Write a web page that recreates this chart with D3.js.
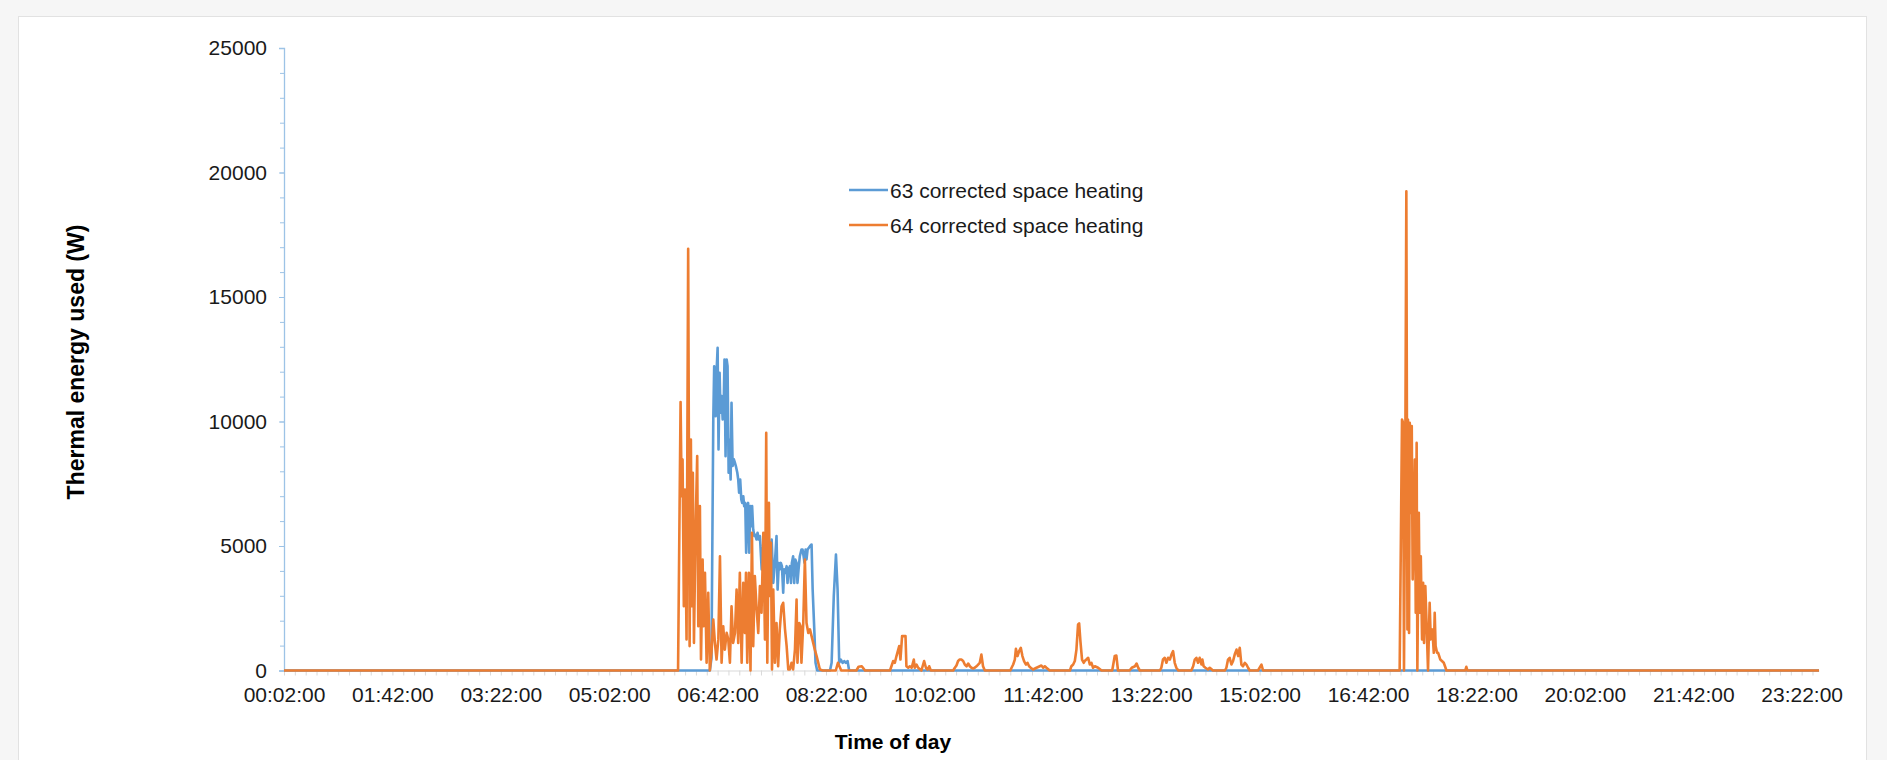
<!DOCTYPE html>
<html>
<head>
<meta charset="utf-8">
<script src="https://cdn.jsdelivr.net/npm/d3@7"></script>
<style>
  body { margin: 0; background: #f6f6f6; }
  svg { display: block; font-family: "Liberation Sans", Arial, sans-serif; }
  .axis text { fill: #1a1a1a; font-size: 21px; }
  .y-axis path, .y-axis line { stroke: #9dc3e6; }
  .x-axis path, .x-axis line { stroke: #d9d9d9; }
  .axis-title { font-weight: bold; font-size: 21px; fill: #000; }
  .legend text { font-size: 21px; fill: #1a1a1a; }
</style>
</head>
<body>
<div id="chart"></div>
<script>
// x axis labels (category axis, one label every 100 minutes)
var tickLabels = [
  "00:02:00", "01:42:00", "03:22:00", "05:02:00", "06:42:00",
  "08:22:00", "10:02:00", "11:42:00", "13:22:00", "15:02:00",
  "16:42:00", "18:22:00", "20:02:00", "21:42:00", "23:22:00"
];
var timeRange = ["00:02:00", "23:38:00"];
var yTicks = [0, 5000, 10000, 15000, 20000, 25000];

var seriesNames = ["63 corrected space heating", "64 corrected space heating"];

// [time, W] - zero stretches only keep their end points
var space63 = [
  ["00:02:00", 0], ["06:34:50", 0], ["06:36:20", 500], ["06:38:00", 10080],
  ["06:38:50", 12220], ["06:40:10", 10210], ["06:41:00", 11960], ["06:42:00", 12960],
  ["06:42:50", 8880], ["06:43:50", 11960], ["06:44:40", 10350], ["06:45:40", 11020],
  ["06:46:40", 10080], ["06:47:30", 10350], ["06:48:20", 12490], ["06:49:20", 8610],
  ["06:50:20", 12490], ["06:51:10", 12220], ["06:52:10", 7940], ["06:53:00", 9280],
  ["06:54:00", 7670], ["06:54:50", 10750], ["06:55:50", 8210], ["06:57:00", 8480],
  ["06:58:00", 8340], ["06:58:50", 8210], ["07:00:10", 7940], ["07:01:00", 7670],
  ["07:01:50", 7140], ["07:02:50", 7670], ["07:03:50", 6870], ["07:04:40", 6730],
  ["07:05:40", 7000], ["07:06:30", 6600], ["07:07:30", 6730], ["07:08:20", 4730],
  ["07:09:20", 6600], ["07:10:10", 6730], ["07:11:10", 4730], ["07:12:10", 6600],
  ["07:13:00", 5800], ["07:13:50", 6600], ["07:14:50", 5660], ["07:15:50", 5400],
  ["07:16:40", 5460], ["07:17:50", 5260], ["07:18:50", 5530], ["07:19:50", 5260],
  ["07:21:00", 5400], ["07:22:40", 4060], ["07:24:10", 5130], ["07:25:40", 4190],
  ["07:27:10", 3520], ["07:28:40", 4320], ["07:30:10", 3250], ["07:31:50", 5260],
  ["07:33:20", 3520], ["07:34:50", 4320], ["07:36:20", 5400], ["07:37:20", 3250],
  ["07:38:30", 4320], ["07:39:20", 4060], ["07:40:20", 4320], ["07:41:20", 4190],
  ["07:42:30", 3120], ["07:43:20", 4060], ["07:44:20", 3920], ["07:45:40", 4190],
  ["07:46:30", 3520], ["07:47:20", 4060], ["07:48:40", 4190], ["07:49:40", 3520],
  ["07:50:30", 4320], ["07:51:40", 4590], ["07:52:40", 3520], ["07:53:40", 4460],
  ["07:54:50", 4320], ["07:55:40", 3520], ["07:56:40", 4060], ["07:57:50", 4590],
  ["07:59:20", 4860], ["08:00:20", 4860], ["08:01:20", 4590], ["08:02:10", 4320],
  ["08:03:10", 4860], ["08:04:00", 4460], ["08:05:00", 4860], ["08:06:10", 4930],
  ["08:07:10", 4990], ["08:08:40", 5060], ["08:09:40", 3250], ["08:11:10", 1650],
  ["08:12:20", 310], ["08:13:50", 0], ["08:25:40", 0], ["08:27:10", 310],
  ["08:29:10", 2990], ["08:31:10", 4660], ["08:32:40", 3250], ["08:34:10", 310],
  ["08:35:40", 440], ["08:37:20", 310], ["08:38:50", 380], ["08:40:20", 310],
  ["08:41:50", 380], ["08:43:20", 0], ["23:38:00", 0]
];

var space64 = [
  ["00:02:00", 0], ["06:05:30", 0], ["06:07:50", 10780], ["06:08:50", 7000],
  ["06:09:40", 8470], ["06:10:50", 2580], ["06:11:50", 7270], ["06:13:20", 1250],
  ["06:14:50", 16940], ["06:16:10", 980], ["06:17:20", 9280], ["06:18:20", 2580],
  ["06:19:10", 7940], ["06:20:10", 1110], ["06:21:40", 5660], ["06:23:10", 8610],
  ["06:24:10", 1780], ["06:25:40", 6600], ["06:26:40", 440], ["06:28:10", 4460],
  ["06:29:00", 1780], ["06:30:20", 3920], ["06:31:50", 310], ["06:33:20", 3120],
  ["06:34:50", 0], ["06:36:20", 710], ["06:38:00", 2050], ["06:39:30", 1110],
  ["06:41:00", 440], ["06:42:40", 1250], ["06:44:10", 4590], ["06:45:40", 310],
  ["06:47:10", 1780], ["06:48:40", 840], ["06:50:20", 1510], ["06:51:50", 1250],
  ["06:53:20", 310], ["06:54:50", 2580], ["06:56:20", 1110], ["06:58:00", 1510],
  ["06:59:30", 3250], ["07:01:00", 1110], ["07:02:30", 3920], ["07:04:10", 310],
  ["07:05:40", 3520], ["07:07:10", 1510], ["07:08:10", 3920], ["07:09:20", 310],
  ["07:10:50", 3920], ["07:12:20", 0], ["07:13:40", 5530], ["07:14:50", 980],
  ["07:16:20", 3790], ["07:17:50", 2580], ["07:19:30", 1510], ["07:21:00", 3390],
  ["07:22:30", 2320], ["07:24:10", 5530], ["07:25:40", 1250], ["07:26:50", 9550],
  ["07:27:50", 310], ["07:29:20", 6730], ["07:30:10", 2990], ["07:31:10", 5130],
  ["07:32:10", 40], ["07:33:20", 3250], ["07:34:50", 310], ["07:36:20", 1910],
  ["07:37:50", 170], ["07:39:20", 1650], ["07:41:00", 2580], ["07:42:30", 2720],
  ["07:44:10", 1650], ["07:45:40", 980], ["07:47:10", 40], ["07:48:40", 40],
  ["07:50:10", 310], ["07:51:40", 40], ["07:53:20", 840], ["07:54:50", 2850],
  ["07:55:40", 310], ["07:57:20", 1910], ["07:58:30", 1780], ["07:59:20", 310],
  ["08:01:00", 1910], ["08:02:30", 4460], ["08:04:00", 1910], ["08:05:40", 1510],
  ["08:07:10", 1650], ["08:08:40", 1380], ["08:10:10", 1110], ["08:11:40", 840],
  ["08:13:20", 580], ["08:14:50", 310], ["08:16:20", 40], ["08:19:00", 0],
  ["08:31:00", 0], ["08:33:00", 310], ["08:36:00", 0], ["08:50:00", 0],
  ["08:52:00", 150], ["08:55:00", 170], ["08:58:00", 0], ["09:21:00", 0],
  ["09:24:00", 380], ["09:25:30", 310], ["09:27:00", 580], ["09:29:30", 980],
  ["09:30:40", 440], ["09:32:10", 1380], ["09:33:50", 1380], ["09:35:20", 1380],
  ["09:36:10", 170], ["09:37:50", 110], ["09:39:20", 170], ["09:41:00", 110],
  ["09:43:00", 440], ["09:43:50", 110], ["09:45:30", 240], ["09:47:00", 110],
  ["09:50:00", 0], ["09:52:30", 380], ["09:54:10", 110], ["09:55:40", 40],
  ["09:57:10", 170], ["09:58:40", 0], ["10:19:20", 0], ["10:20:50", 110],
  ["10:22:20", 200], ["10:23:50", 380], ["10:25:20", 440], ["10:26:50", 440],
  ["10:28:30", 380], ["10:30:00", 240], ["10:31:40", 170], ["10:33:10", 280],
  ["10:34:40", 170], ["10:36:10", 110], ["10:37:40", 80], ["10:39:10", 110],
  ["10:40:50", 170], ["10:42:20", 240], ["10:43:50", 310], ["10:45:20", 640],
  ["10:46:50", 170], ["10:48:30", 0], ["11:12:00", 0], ["11:13:10", 110],
  ["11:14:40", 240], ["11:16:10", 440], ["11:17:10", 870], ["11:18:40", 580],
  ["11:20:10", 780], ["11:21:40", 910], ["11:23:10", 580], ["11:24:40", 380],
  ["11:26:20", 240], ["11:27:50", 310], ["11:29:20", 170], ["11:30:50", 110],
  ["11:33:00", 40], ["11:36:10", 110], ["11:39:10", 170], ["11:40:40", 200],
  ["11:42:20", 110], ["11:43:50", 170], ["11:45:20", 110], ["11:48:20", 0],
  ["12:07:00", 0], ["12:08:20", 170], ["12:10:00", 240], ["12:11:30", 380],
  ["12:13:00", 840], ["12:14:30", 1850], ["12:15:30", 1890], ["12:16:40", 1180],
  ["12:18:10", 440], ["12:19:40", 310], ["12:20:40", 380], ["12:22:10", 440],
  ["12:23:50", 510], ["12:25:20", 240], ["12:26:50", 310], ["12:28:20", 110],
  ["12:30:00", 170], ["12:33:00", 110], ["12:36:10", 0], ["12:46:00", 0],
  ["12:48:20", 580], ["12:49:50", 600], ["12:51:20", 0], ["13:02:00", 0],
  ["13:04:00", 110], ["13:07:00", 170], ["13:08:30", 280], ["13:10:00", 110],
  ["13:11:30", 0], ["13:30:00", 0], ["13:31:20", 110], ["13:32:50", 440],
  ["13:34:30", 510], ["13:36:00", 310], ["13:37:30", 510], ["13:39:10", 440],
  ["13:40:40", 640], ["13:42:10", 780], ["13:43:40", 310], ["13:45:10", 110],
  ["13:47:00", 0], ["13:59:00", 0], ["14:00:40", 170], ["14:02:10", 440],
  ["14:03:40", 510], ["14:05:10", 310], ["14:06:40", 510], ["14:08:20", 240],
  ["14:09:10", 440], ["14:10:20", 170], ["14:12:00", 110], ["14:14:20", 40],
  ["14:16:00", 110], ["14:19:00", 0], ["14:30:00", 0], ["14:31:20", 110],
  ["14:32:50", 440], ["14:34:20", 510], ["14:36:00", 240], ["14:37:30", 380],
  ["14:39:00", 640], ["14:40:40", 840], ["14:42:10", 580], ["14:43:40", 910],
  ["14:45:10", 240], ["14:46:40", 170], ["14:48:20", 310], ["14:49:50", 240],
  ["14:51:20", 110], ["14:52:50", 0], ["15:00:30", 0], ["15:03:40", 240],
  ["15:05:10", 0], ["17:11:10", 0], ["17:13:20", 10080], ["17:14:20", 9950],
  ["17:15:10", 0], ["17:16:30", 10080], ["17:17:20", 19250], ["17:18:20", 1650],
  ["17:18:50", 10080], ["17:19:50", 1510], ["17:20:30", 9950], ["17:21:20", 6330],
  ["17:22:20", 9820], ["17:23:10", 3660], ["17:24:10", 5660], ["17:25:10", 8470],
  ["17:26:00", 2320], ["17:26:50", 9140], ["17:27:30", 0], ["17:28:50", 6330],
  ["17:29:40", 2320], ["17:30:40", 4590], ["17:31:50", 1250], ["17:32:50", 3520],
  ["17:33:40", 1110], ["17:34:50", 3390], ["17:36:10", 1650], ["17:37:20", 0],
  ["17:38:50", 2720], ["17:39:50", 1250], ["17:41:20", 1650], ["17:42:40", 710],
  ["17:43:30", 2320], ["17:44:20", 980], ["17:45:40", 710], ["17:46:40", 710],
  ["17:47:40", 580], ["17:48:40", 440], ["17:50:10", 380], ["17:51:50", 310],
  ["17:53:00", 170], ["17:54:20", 0], ["18:11:40", 0], ["18:12:40", 150],
  ["18:13:40", 0], ["23:38:00", 0]
];

var colors = ["#5b9bd5", "#ed7d31"];

function toSec(s) {
  var p = s.split(":").map(Number);
  return p[0] * 3600 + p[1] * 60 + p[2];
}

function drawChart() {
  var width = 1887, height = 760;
  var margin = { top: 48, right: 68, bottom: 89, left: 284 };

  var svg = d3.select("#chart")
    .append("svg")
    .attr("width", width)
    .attr("height", height);

  // white chart panel
  svg.append("rect")
    .attr("x", 18.5)
    .attr("y", 16.5)
    .attr("width", 1848)
    .attr("height", 800)
    .attr("fill", "#fff")
    .attr("stroke", "#e2e2e2");

  var x = d3.scaleLinear()
    .domain(timeRange.map(toSec))
    .range([margin.left, width - margin.right]);

  var y = d3.scaleLinear()
    .domain([0, 25000])
    .range([height - margin.bottom - 0.5, margin.top]);

  // x axis: tick every 10 min, label every 100 min
  var labelSet = new Set(tickLabels.map(toSec));
  var xTickVals = d3.range(toSec(timeRange[0]), toSec(timeRange[1]) + 1, 600);
  var xAxis = svg.append("g")
    .attr("class", "axis x-axis")
    .attr("transform", "translate(0," + y(0) + ")")
    .call(d3.axisBottom(x)
      .tickValues(xTickVals)
      .tickSize(5)
      .tickSizeOuter(0)
      .tickFormat(function (d) {
        return labelSet.has(d) ? d3.utcFormat("%H:%M:%S")(new Date(d * 1000)) : "";
      }));
  xAxis.selectAll("text").attr("y", 17).attr("dy", "0.71em");

  // y axis: minor ticks every 1000 W, labels every 5000 W
  svg.append("g")
    .attr("class", "axis y-axis")
    .attr("transform", "translate(" + margin.left + ",0)")
    .call(d3.axisLeft(y)
      .tickValues(d3.range(0, 25001, 1000))
      .tickSize(4)
      .tickSizeOuter(0)
      .tickFormat(""));

  var yAxis = svg.append("g")
    .attr("class", "axis y-axis")
    .attr("transform", "translate(" + margin.left + ",0)")
    .call(d3.axisLeft(y)
      .tickValues(yTicks)
      .tickSize(5)
      .tickPadding(12)
      .tickFormat(d3.format("d")));
  yAxis.select(".domain").attr("stroke-width", 1.3);

  var line = d3.line()
    .x(function (d) { return x(toSec(d[0])); })
    .y(function (d) { return y(d[1]); });

  [space63, space64].forEach(function (series, i) {
    svg.append("path")
      .datum(series)
      .attr("fill", "none")
      .attr("stroke", colors[i])
      .attr("stroke-width", 2.6)
      .attr("stroke-linejoin", "round")
      .attr("d", line);
  });

  // axis titles
  svg.append("text")
    .attr("class", "axis-title")
    .attr("text-anchor", "middle")
    .style("font-size", "23px")
    .attr("transform", "translate(84,362) rotate(-90)")
    .text("Thermal energy used (W)");

  svg.append("text")
    .attr("class", "axis-title")
    .attr("text-anchor", "middle")
    .attr("x", 893)
    .attr("y", 749)
    .text("Time of day");

  // legend
  var legend = svg.append("g")
    .attr("class", "legend")
    .attr("transform", "translate(849,190)");

  var rows = legend.selectAll("g")
    .data(seriesNames)
    .enter()
    .append("g")
    .attr("transform", function (d, i) { return "translate(0," + i * 35 + ")"; });

  rows.append("line")
    .attr("x1", 0)
    .attr("x2", 39)
    .attr("stroke", function (d, i) { return colors[i]; })
    .attr("stroke-width", 2.6);

  rows.append("text")
    .attr("x", 41)
    .attr("y", 8)
    .text(function (d) { return d; });
}

drawChart();
</script>
</body>
</html>
